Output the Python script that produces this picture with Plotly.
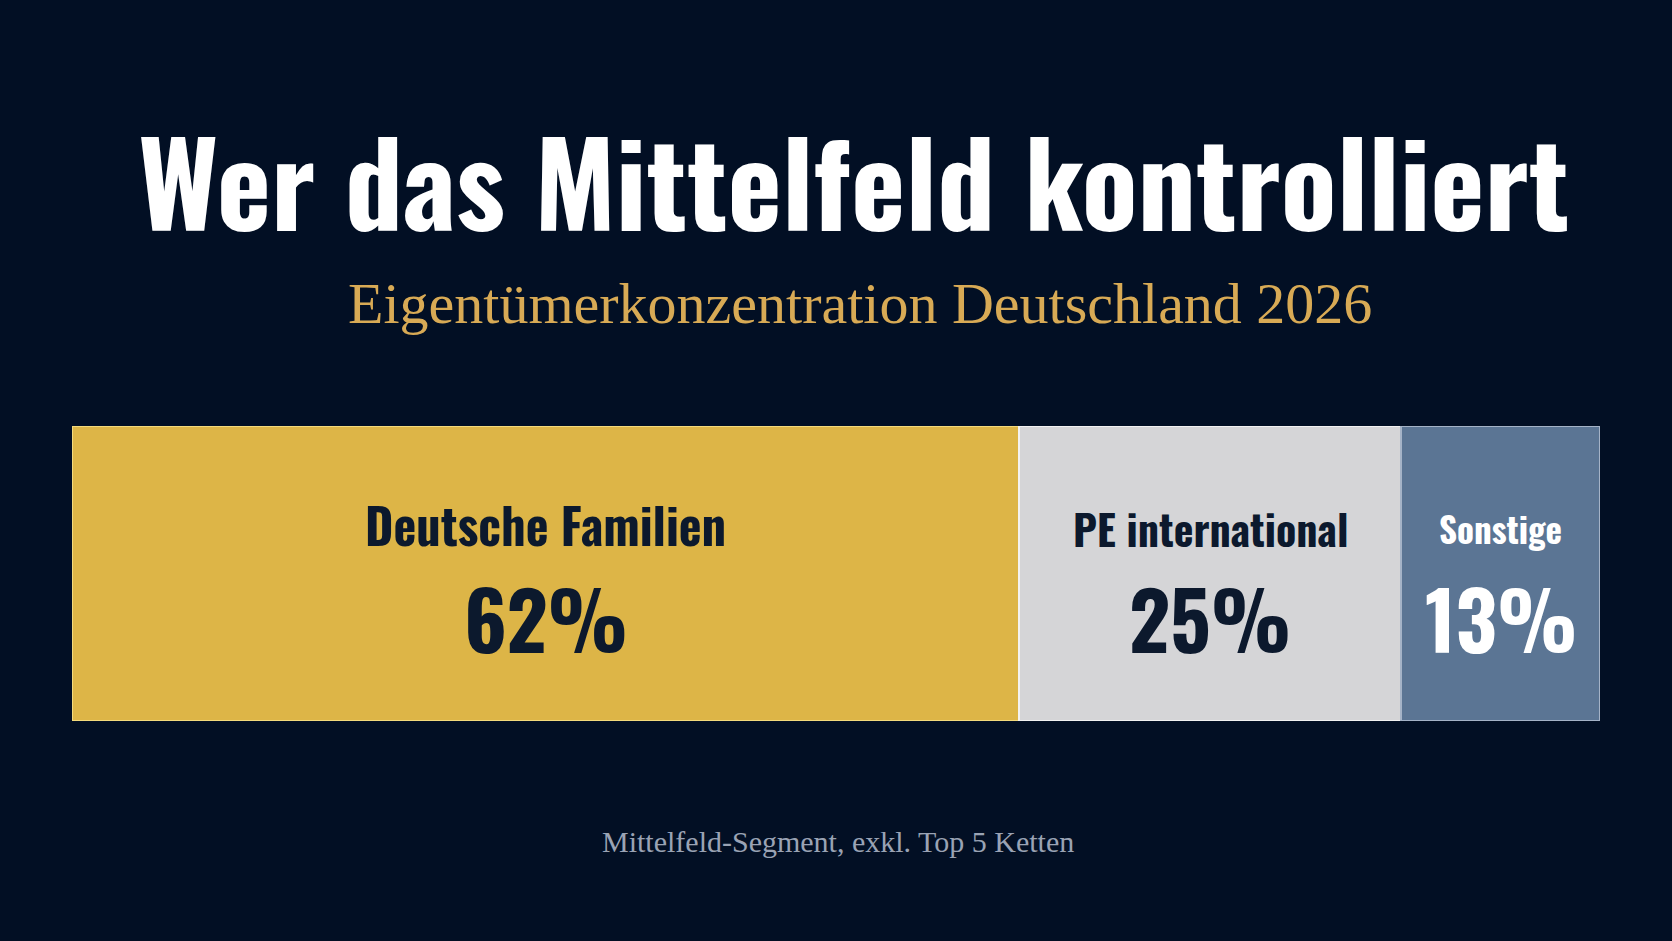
import plotly.graph_objects as go

# ---- data ----
categories = ["Deutsche Familien", "PE international", "Sonstige"]
shares = [62, 25, 13]
value_labels = ["62%", "25%", "13%"]
title_text = "Wer das Mittelfeld kontrolliert"
subtitle_text = "Eigentümerkonzentration Deutschland 2026"
footnote_text = "Mittelfeld-Segment, exkl. Top 5 Ketten"

# ---- styles ----
BG = "#020F24"
fills = ["#DDB547", "#D5D5D7", "#5B7594"]
borders = ["#F4DA7C", "#F2F2F2", "#A5B3C7"]
text_colors = ["#0C192D", "#0C192D", "#FFFFFF"]
label_sizes = [48.5, 42, 35]
label_y = [0.668, 0.655, 0.655]
COND = "Oswald, 'Roboto Condensed', 'Open Sans Condensed', sans-serif"
SERIF = "'Liberation Serif', 'Noto Serif', serif"

fig = go.Figure()
for cat, val, fc, bc in zip(categories, shares, fills, borders):
    fig.add_trace(go.Bar(
        x=[val], y=[0], orientation="h", name=cat,
        marker=dict(color=fc, line=dict(color=bc, width=2)),
        width=1, hoverinfo="skip", showlegend=False,
    ))

# labels inside segments, positioned at the centre of each stacked segment
start = 0
for cat, val, lab, tc, ls, ly in zip(categories, shares, value_labels, text_colors, label_sizes, label_y):
    cx = start + val / 2
    start += val
    fig.add_annotation(x=cx, y=ly, xref="x", yref="paper", text=cat, showarrow=False,
                       yanchor="middle", font=dict(family=COND, size=ls, color=tc, weight=700))
    fig.add_annotation(x=cx, y=0.352, xref="x", yref="paper", text=lab, showarrow=False,
                       yanchor="middle", font=dict(family=COND, size=80, color=tc, weight=700))

fig.add_annotation(x=0.5, y=1.838, xref="paper", yref="paper", text=title_text, showarrow=False,
                   xshift=17, yanchor="middle", font=dict(family=COND, size=115.5, color="#FFFFFF", weight=700))
fig.add_annotation(x=0.5, y=1.415, xref="paper", yref="paper", text=subtitle_text, showarrow=False,
                   xshift=24, yanchor="middle", font=dict(family=SERIF, size=58, color="#D8AA55"))
fig.add_annotation(x=0.5, y=-0.41, xref="paper", yref="paper", text=footnote_text, showarrow=False,
                   xshift=2, yanchor="middle", font=dict(family=SERIF, size=30, color="#9AA3B4"))

fig.update_layout(
    width=1672, height=941, barmode="stack", bargap=0,
    margin=dict(l=72, r=72, t=426, b=220),
    paper_bgcolor=BG, plot_bgcolor=BG,
    xaxis=dict(range=[0, 100], visible=False, fixedrange=True),
    yaxis=dict(range=[-0.5, 0.5], visible=False, fixedrange=True),
)
fig.write_html("out.html")
